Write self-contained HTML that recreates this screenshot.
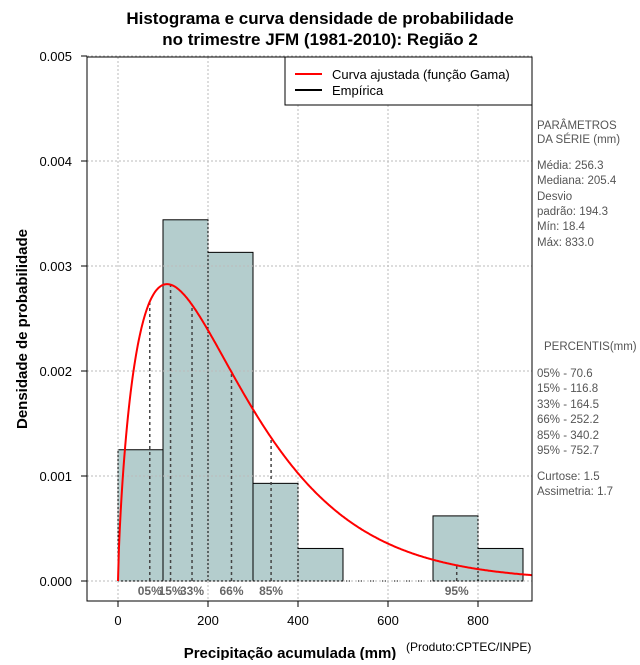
<!DOCTYPE html>
<html><head><meta charset="utf-8"><style>
body{margin:0;background:#fff;}
svg text{font-family:"Liberation Sans",sans-serif;}
</style></head><body>
<svg id="c" width="640" height="660" xmlns="http://www.w3.org/2000/svg">
<text x="320" y="24" text-anchor="middle" font-size="17" font-weight="bold">Histograma e curva densidade de probabilidade</text>
<text x="320" y="45" text-anchor="middle" font-size="17" font-weight="bold">no trimestre JFM (1981-2010): Região 2</text>
<g id="bars"></g>
<g id="grid"></g>
<g id="pct"></g>
<path id="curve" fill="none" stroke="#ff0000" stroke-width="2"/>
<rect x="87" y="57" width="445" height="544" fill="none" stroke="#000"/>
<g id="axes"></g>
<text transform="translate(27,329) rotate(-90)" text-anchor="middle" font-size="15" font-weight="bold">Densidade de probabilidade</text>
<text x="290" y="658" text-anchor="middle" font-size="15" font-weight="bold">Precipitação acumulada (mm)</text>
<text x="406" y="651" font-size="12">(Produto:CPTEC/INPE)</text>
<g>
<rect x="285" y="57" width="247" height="48" fill="#fff" stroke="#000"/>
<line x1="295" y1="74" x2="322" y2="74" stroke="#ff0000" stroke-width="2"/>
<text x="332" y="79" font-size="13">Curva ajustada (função Gama)</text>
<line x1="295" y1="90" x2="322" y2="90" stroke="#000" stroke-width="2"/>
<text x="332" y="95" font-size="13">Empírica</text>
</g>
<g font-size="11.5" fill="#555">
<text x="537" y="129">PARÂMETROS</text><text x="537" y="143"> DA SÉRIE (mm)</text>
<text x="537" y="169">Média:  256.3</text><text x="537" y="184">Mediana:  205.4</text>
<text x="537" y="200">Desvio</text><text x="537" y="215">padrão:  194.3</text>
<text x="537" y="230">Mín:  18.4</text><text x="537" y="246">Máx:  833.0</text>
</g>
<g font-size="11.5" fill="#555">
<text x="544" y="350">PERCENTIS(mm)</text>
<text x="537" y="377">05% -  70.6</text><text x="537" y="392">15% -  116.8</text>
<text x="537" y="408">33% -  164.5</text><text x="537" y="423">66% -  252.2</text>
<text x="537" y="439">85% -  340.2</text><text x="537" y="454">95% -  752.7</text>
<text x="537" y="480">Curtose:  1.5</text><text x="537" y="495">Assimetria:  1.7</text>
</g>
</svg>
<script>
const binStarts=[0,100,200,300,400,500,600,700,800];
const binDensity=[0.00125,0.00344,0.00313,0.00093,0.00031,0,0,0.00062,0.00031];
const binWidth=100;
const gammaParams=[256.3,194.3]; // mean, sd
const pctLabels=["05%","15%","33%","66%","85%","95%"];
const pctValues=[70.6,116.8,164.5,252.2,340.2,752.7];
const xTicks=[0,200,400,600,800];
const yTicks=[0,0.001,0.002,0.003,0.004,0.005];
const NS="http://www.w3.org/2000/svg";
const X=v=>118+v*0.45, Y=v=>581-v*105000;
function mk(t,a,p){const e=document.createElementNS(NS,t);for(const k in a)e.setAttribute(k,a[k]);p.appendChild(e);return e;}
const g=document.getElementById('grid');
xTicks.forEach(v=>{const l=mk('line',{x1:X(v),x2:X(v),y1:57,y2:601,stroke:'#bbb','stroke-dasharray':'2,2'},g);

});
yTicks.forEach(v=>{const l=mk('line',{x1:87,x2:532,y1:Y(v),y2:Y(v),stroke:'#bbb','stroke-dasharray':'2,2'},g);

});
const b=document.getElementById('bars');
binStarts.forEach((s,i)=>{if(binDensity[i]<=0)return;const r=mk('rect',{x:X(s),y:Y(binDensity[i]),width:X(s+binWidth)-X(s),height:Y(0)-Y(binDensity[i]),fill:'#b4cdcd',stroke:'#000'},b);

});
const zl=mk('line',{x1:X(0),x2:X(binStarts[binStarts.length-1]+binWidth),y1:Y(0),y2:Y(0),stroke:'#000','stroke-dasharray':'1,2'},b);


function lgam(z){const c=[76.18009172947146,-86.50532032941677,24.01409824083091,-1.231739572450155,0.1208650973866179e-2,-0.5395239384953e-5];let x=z,y=z,t=x+5.5;t-=(x+0.5)*Math.log(t);let s=1.000000000190015;for(let j=0;j<6;j++)s+=c[j]/++y;return -t+Math.log(2.5066282746310005*s/x);}
const k=(gammaParams[0]/gammaParams[1])**2, th=gammaParams[1]**2/gammaParams[0];
const dens=x=>x<=0?0:Math.exp((k-1)*Math.log(x)-x/th-lgam(k)-k*Math.log(th));
let d='';for(let x=0;x<=920;x+=2)d+=(x?'L':'M')+X(x).toFixed(1)+','+Y(dens(x)).toFixed(1);
document.getElementById('curve').setAttribute('d',d);
const p=document.getElementById('pct');
pctValues.forEach((v,i)=>{const l=mk('line',{x1:X(v),x2:X(v),y1:Y(0),y2:Y(dens(v)),stroke:'#444','stroke-dasharray':'3,3','stroke-width':1.5},p);


const t=mk('text',{x:X(v),y:595,'text-anchor':'middle','font-size':12,'font-weight':'bold',fill:'#666'},p);t.textContent=pctLabels[i];

});
const a=document.getElementById('axes');
xTicks.forEach(v=>{const l=mk('line',{x1:X(v),x2:X(v),y1:601,y2:607,stroke:'#000'},a);


const t=mk('text',{x:X(v),y:625,'text-anchor':'middle','font-size':13},a);t.textContent=v;

});
yTicks.forEach(v=>{const l=mk('line',{x1:81,x2:87,y1:Y(v),y2:Y(v),stroke:'#000'},a);


const t=mk('text',{x:72,y:Y(v)+5,'text-anchor':'end','font-size':13},a);t.textContent=v.toFixed(3);

});
</script>
</body></html>
